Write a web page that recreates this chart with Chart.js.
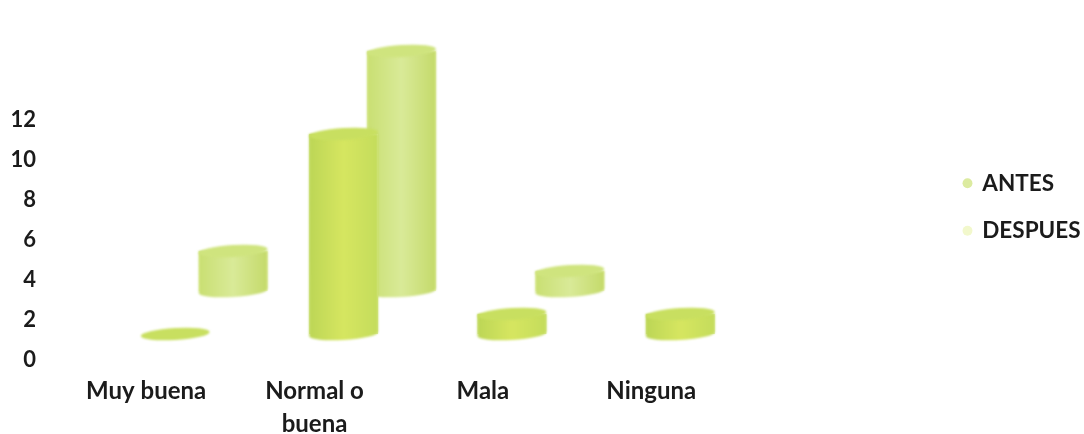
<!DOCTYPE html>
<html><head><meta charset="utf-8">
<script src="https://cdn.jsdelivr.net/npm/chart.js@4"></script>
<style>html,body{margin:0;padding:0;background:#fff}#w{width:1084px;height:434px}</style>
</head><body><div id="w"><canvas id="c" width="1084" height="434"></canvas></div>
<script>
const categories = [["Muy buena"], ["Normal o", "buena"], ["Mala"], ["Ninguna"]];
const antes = [0, 10, 1, 1];
const despues = [2, 12, 1, null];
const antesDepth = 1.275;
const despuesDepth = 3.425;
const tickValues = [0, 2, 4, 6, 8, 10, 12];
const float = (arr, d) => arr.map(v => v === null ? null : [d, d + v]);
const TEXT = "#1b1b1b";

const cylinders = {
  id: "cylinders",
  afterDatasetDraw(chart, args) {
    const ctx = chart.ctx, i = args.index;
    const src = chart.data.datasets[i].data;
    const s = i === 0
      ? {l: "#bcd656", m: "#d6e660", r: "#c4dc5c", top: "#c8df60"}
      : {l: "#c9df72", m: "#d9ea98", r: "#c4da6a", top: "#cfe47e"};
    args.meta.data.forEach((b, k) => {
      if (src[k] === null) return;
      const w = b.width, x0 = b.x - w / 2, rx = w / 2, ry = 6;
      const g = ctx.createLinearGradient(x0, 0, x0 + w, 0);
      g.addColorStop(0, s.l); g.addColorStop(0.5, s.m); g.addColorStop(1, s.r);
      const bottom = b.base, top = b.y;
      ctx.save();
      ctx.filter = "blur(1.2px)";
      ctx.fillStyle = g;
      if (bottom - top > 1) {
        ctx.beginPath();
        ctx.moveTo(x0, top);
        ctx.lineTo(x0 + w, top);
        ctx.lineTo(x0 + w, bottom - 3);
        ctx.ellipse(b.x, bottom, rx, ry, -0.06, 0, Math.PI);
        ctx.closePath();
        ctx.fill();
      }
      ctx.fillStyle = s.top;
      ctx.beginPath();
      ctx.ellipse(b.x, top, rx, ry, -0.06, 0, Math.PI * 2);
      ctx.fill();
      ctx.restore();
    });
  },
  afterLayout(chart) {
    const l = chart.legend;
    l.left = 939; l.right = 939 + l.width;
    l.top = 147; l.bottom = 147 + l.height;
  }
};

new Chart(document.getElementById("c"), {
  type: "bar",
  data: {
    labels: categories,
    datasets: [
      {label: "ANTES", data: float(antes, antesDepth), backgroundColor: "#dcebA0", borderWidth: 0,
       categoryPercentage: 0.688, barPercentage: 1.19},
      {label: "DESPUES", data: float(despues, despuesDepth), backgroundColor: "#f2f8cc", borderWidth: 0,
       categoryPercentage: 0.688, barPercentage: 1.19}
    ]
  },
  options: {
    responsive: false,
    animation: false,
    layout: {padding: {left: 0, right: 139, top: 39.5, bottom: 0}},
    plugins: {
      title: {display: false},
      tooltip: {enabled: false},
      legend: {
        position: "right",
        align: "start",
        labels: {
          color: TEXT, font: {family: "Lato", size: 22.5, weight: "bold"}, usePointStyle: true, pointStyle: "circle",
          boxWidth: 7, boxHeight: 7, padding: 25
        }
      }
    },
    scales: {
      x: {
        grid: {display: false, drawTicks: false},
        border: {display: false},
        ticks: {color: TEXT, font: {family: "Lato", size: 24, weight: "bold", lineHeight: 1.38}, labelOffset: -58, padding: 15.5, maxRotation: 0, autoSkip: false},
        afterFit(a) { a.height = 74.5; }
      },
      y: {
        min: 0, max: 16,
        grid: {display: false, drawTicks: false},
        border: {display: false},
        afterBuildTicks(a) { a.ticks = tickValues.map(v => ({value: v})); },
        ticks: {color: TEXT, font: {family: "Lato", size: 22, weight: "bold"}, padding: 84},
        afterFit(a) { a.width = 120; a.paddingTop = 0; a.paddingBottom = 0; }
      }
    }
  },
  plugins: [cylinders]
});
</script></body></html>
